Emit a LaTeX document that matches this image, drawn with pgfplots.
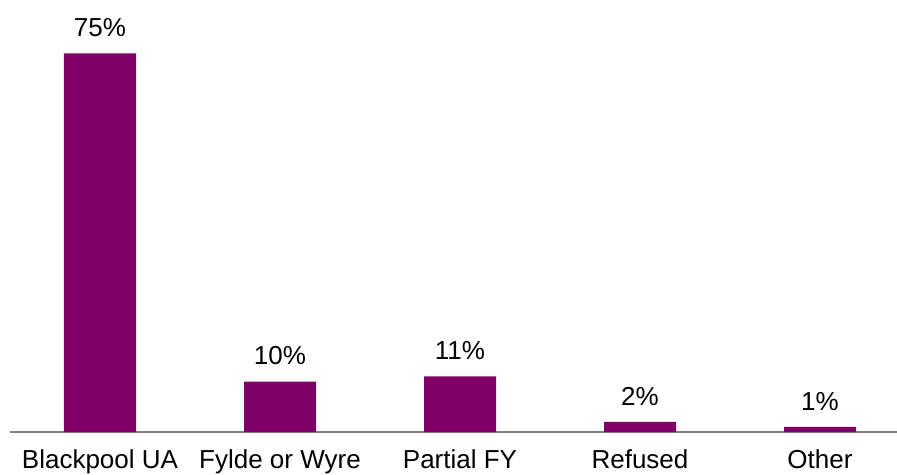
\documentclass[border=0pt]{standalone}
\usepackage{fontspec}
\setmainfont{Liberation Sans}
\usepackage{pgfplots}
\pgfplotsset{compat=1.18}
\usetikzlibrary{calc}
\definecolor{barpurple}{RGB}{128,0,102}
\definecolor{axisgray}{RGB}{128,128,128}
\begin{document}
\begin{tikzpicture}
\begin{axis}[
  scale only axis,
  width=887pt, height=404pt,
  xmin=-0.5, xmax=4.4278,
  ymin=0, ymax=80,
  axis x line=bottom,
  axis y line=none,
  axis line style={axisgray, line width=1.2pt, -},
  xtick={0,1,2,3,4},
  xticklabels={Blackpool UA, Fylde or Wyre, Partial FY, Refused, Other},
  major tick length=0pt,
  /pgf/number format/assume math mode=true,
  xticklabel style={font=\fontsize{26}{31}\selectfont, text=black, yshift=-14pt},
  ybar, bar width=72pt,
  nodes near coords={\pgfmathprintnumber{\pgfplotspointmeta}\%},
  nodes near coords style={font=\fontsize{26}{31}\selectfont, text=black, yshift=13pt},
  clip=false,
]
\addplot[fill=barpurple, draw=none] coordinates {(0,75) (1,10) (2,11) (3,2) (4,1)};
\coordinate (bl) at (rel axis cs:0,0);
\end{axis}
\pgfresetboundingbox
\path[use as bounding box] ($(bl)+(-10pt,-42pt)$) rectangle ($(bl)+(887pt,432pt)$);
\end{tikzpicture}
\end{document}
